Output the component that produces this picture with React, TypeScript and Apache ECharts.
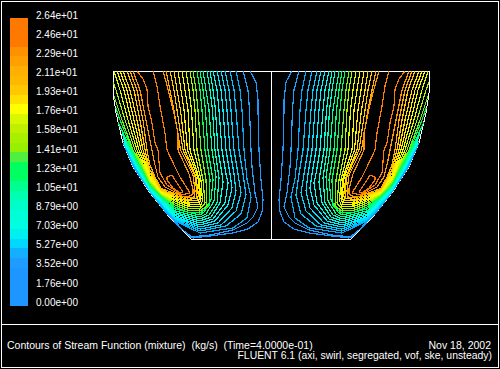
import React, { useEffect, useRef } from "react";
import * as echarts from "echarts";

type Pt = [number, number];

// Stream function contours: [radius, height] in the meridional plane (left half; the right half mirrors it).
const level01: Pt[] = [[21,168],[15,157],[13,139],[13,129],[12,89],[10,59],[8,39],[9,27],[13,17],[23,10],[38,6],[61,3],[78,1],[90,10.5],[105,26.3],[120.5,46.3],[137.5,72],[147.7,96]];
const level02: Pt[] = [[28,168],[23,149],[21.5,129],[20,89],[19,72],[16,46],[13,32],[18,22],[24,16],[38,9],[61,4],[81,2],[88,9],[104,25.5],[110,33],[120,46.5],[137,72],[147.3,96]];
const level03: Pt[] = [[35,168],[31,149],[29,129],[27,89],[24,60],[20,42],[24,21],[38,11],[71,6],[96,18],[110,33.5],[120.5,47],[136.5,72],[147.5,96]];
const level04: Pt[] = [[41,168],[37,149],[35,129],[32,89],[28,65],[25,44],[30,25],[45,13],[71,8],[96,19],[110,34],[120.5,47.5],[136,72],[147.3,96]];
const level05: Pt[] = [[46,168],[42,149],[40,129],[37,89],[33,65],[30,46],[35,28],[50,14],[71,10],[96,20],[110,35],[121,48],[135.5,72],[147.1,96]];
const level06: Pt[] = [[50,168],[46,149],[44,129],[41,89],[37,65],[35,48],[39,31],[53,16],[71,12],[96,21],[110,36],[121,48.5],[135,72],[146.9,96]];
const level07: Pt[] = [[54,168],[50,149],[48,129],[45,89],[41,65],[39,51],[43,34],[56,18],[71,14],[96,22],[110,37],[121,49],[134.5,72],[146.7,96]];
const level08: Pt[] = [[58,168],[54,149],[52,129],[49,89],[45,65],[43,56],[46,36],[58,20],[71,16],[96,23.5],[110,38],[121,49.5],[134,72],[142.5,89],[147.2,98]];
const level09: Pt[] = [[61,168],[58,149],[55.5,129],[53,89],[49,65],[48,57],[51,36],[60,22],[71,18],[96,25],[110,39],[121,50.5],[133.5,72],[142,89],[148,102]];
const level10: Pt[] = [[64,168],[61,149],[58.5,129],[56,89],[52,61],[54,36],[62,24],[71,20],[96,26.5],[110,40],[121,51.5],[133,72],[141.5,89],[149,106]];
const level11: Pt[] = [[68,168],[65,149],[62,129],[59,89],[55,62],[57,38],[65,25],[71,22],[96,28],[110,41],[121,52.5],[132,72],[141,89],[151,113]];
const level12: Pt[] = [[71,168],[68,149],[65.5,129],[63,89],[58,59],[60,39],[67,27],[71,24],[96,30],[110,42],[121,53.5],[131,72],[140,89],[153,117]];
const level13: Pt[] = [[74,168],[71,149],[69,129],[66,89],[61,59],[62,33],[71,26],[84,27],[96,32],[110,43],[121,54.5],[130,72],[139,89],[151,119],[155.2,131]];
const level14: Pt[] = [[78,168],[75,149],[73,129],[70,89],[65,59],[64,33],[71,28],[84,29],[96,34],[110,44],[121,56],[129,72],[138,89],[149,119],[157,143]];
const level15: Pt[] = [[81,168],[78,149],[76,129],[74,89],[68,59],[66,36],[71,30],[84,31],[96,36],[110,45],[121,57.5],[136,89],[146,119],[155,149],[158,157]];
const level16: Pt[] = [[85,168],[82,149],[79.5,129],[77,89],[70,59],[68.5,38],[71,32.5],[84,33],[96,38],[110,46],[121,59],[134,89],[143,119],[151,149],[157,168]];
const level17: Pt[] = [[89,168],[86,149],[83,129],[81,89],[72,61],[70,40],[72,34.5],[84,35],[96,39.5],[110,46.8],[121,61],[132,89],[140,119],[147,149],[154,168]];
const level18: Pt[] = [[93,168],[90,149],[87,129],[83.5,89],[73,61],[71,42],[73,36.5],[84,36.5],[96,41],[110,47.6],[121,63],[130,89],[137,119],[144,149],[151,168]];
const level19: Pt[] = [[97,168],[94,149],[90.5,129],[86,89],[75,62],[72.5,44],[74,38.5],[84,38],[96,42.5],[110,48.4],[121,66],[128,89],[134,119],[141,149],[148,168]];
const level20: Pt[] = [[101,168],[97,149],[94,129],[88,89],[76,63],[74,46],[75,40.5],[84,39.5],[96,44],[110,49.2],[121,69],[126,89],[131,119],[137,149],[144,168]];
const level21: Pt[] = [[105,168],[101,149],[97,129],[90.5,89],[78,64],[76,48],[77,42],[84,41],[96,45.5],[110,50.5],[116,62],[121,74],[124,89],[128,119],[134,149],[141,168]];
const level22: Pt[] = [[108,168],[103,150],[98,130],[93,106],[93,89],[82,65],[78,50],[78,45],[82,42.5],[88,42.5],[96,47],[106,52],[113,62],[116,74],[119,89],[125,119],[131,149],[138,168]];
const level23: Pt[] = [[118,168],[114,153],[111,133],[106,106],[104,89],[96,72],[91,62],[86,54],[81,46],[89,44],[104,54],[111,66],[113,89],[116,96],[119,116],[123,133],[124,150],[128,160],[134,168]];
const level24: Pt[] = [[104,62],[99,64],[96,59],[88,47],[91,46],[98,51],[104,59],[104,62]];

const contours: Pt[][] = [level01, level02, level03, level04, level05, level06, level07, level08, level09, level10, level11, level12, level13, level14, level15, level16, level17, level18, level19, level20, level21, level22, level23, level24];

const contourColors = ["rgb(30,150,255)","rgb(30,160,255)","rgb(0,170,255)","rgb(0,190,255)","rgb(0,210,255)","rgb(0,225,255)","rgb(0,240,255)","rgb(0,255,240)","rgb(0,255,220)","rgb(0,255,190)","rgb(0,255,160)","rgb(0,255,120)","rgb(0,255,80)","rgb(110,245,20)","rgb(170,245,0)","rgb(220,250,0)","rgb(245,250,0)","rgb(255,240,0)","rgb(255,220,0)","rgb(255,200,0)","rgb(255,175,0)","rgb(255,150,0)","rgb(255,125,0)","rgb(255,120,0)"];

// Domain outline: [radius, height]
const wall: Pt[] = [[0,168],[158,168],[158,146],[155,126],[148,96],[138,72],[121,46],[101,21],[80,0],[0,0],[0,168]];

// Colour scale
const scaleTicks = ["0.00e+00","1.76e+00","3.52e+00","5.27e+00","7.03e+00","8.79e+00","1.05e+01","1.23e+01","1.41e+01","1.58e+01","1.76e+01","1.93e+01","2.11e+01","2.29e+01","2.46e+01","2.64e+01"];
const scaleBandSize = [0.88,0.88,0.88,0.88,0.88,0.88,0.88,0.88,0.88,0.88,0.88,0.88,0.88,0.88,0.88,0.88,0.88,0.88,0.88,0.88,0.88,0.88,0.88,0.88,0.88,0.88,0.88,0.88,0.88,0.88];
const scaleBandColors = ["#1e96ff","#1e96ff","#1e96ff","#1e96ff","#1e9cff","#14b0ff","#00d8ff","#00f0f0","#00ffe0","#00ffd8","#00ffc8","#00ffb0","#00ff90","#00ff60","#00ff60","#50f040","#98f000","#a8f000","#c0f000","#d8f800","#ffff00","#ffe000","#ffc800","#ffb800","#ffb000","#ffa000","#ff9000","#ff7800","#ff7800","#ff7800"];

const titleText = "Contours of Stream Function (mixture)  (kg/s)  (Time=4.0000e-01)";
const dateText = "Nov 18, 2002";
const solverText = "FLUENT 6.1 (axi, swirl, segregated, vof, ske, unsteady)";

const FONT = "'Liberation Sans', Arial, sans-serif";

export default function App() {
  const ref = useRef<HTMLDivElement>(null);
  useEffect(() => {
    const chart = echarts.init(ref.current!, null, { renderer: "svg" });
    const line = (id: string, pts: Pt[], color: string, sign: number, width: number) => ({
      type: "line",
      id,
      xAxisIndex: 0,
      yAxisIndex: 0,
      data: pts.map(([r, z]) => [sign * r, z]),
      symbol: "none",
      silent: true,
      clip: false,
      lineStyle: { color, width, cap: "butt", join: "miter" },
    });
    const series: any[] = [
      line("wallL", wall, "#ffffff", -1, 1),
      line("wallR", wall, "#ffffff", 1, 1),
    ];
    contours.forEach((pts, i) => {
      series.push(line(`cL${i}`, pts, contourColors[i], -1, 1.2));
      series.push(line(`cR${i}`, pts, contourColors[i], 1, 1.2));
    });
    scaleBandSize.forEach((v, i) => {
      series.push({
        type: "bar",
        id: `band${i}`,
        xAxisIndex: 1,
        yAxisIndex: 1,
        stack: "scale",
        barWidth: "100%",
        silent: true,
        data: [v],
        itemStyle: { color: scaleBandColors[i] },
      });
    });
    chart.setOption({
      animation: false,
      backgroundColor: "#000000",
      grid: [
        { left: 0, top: 0, width: 500, height: 369 },
        { left: 10, top: 18, width: 18, height: 288 },
        { left: 10, top: 15, width: 18, height: 287.3 },
      ],
      xAxis: [
        { type: "value", gridIndex: 0, min: -271, max: 229, show: false },
        { type: "category", gridIndex: 1, data: ["scale"], show: false },
        { type: "category", gridIndex: 2, data: ["scale"], show: false },
      ],
      yAxis: [
        { type: "value", gridIndex: 0, min: -130, max: 239, show: false },
        { type: "value", gridIndex: 1, min: 0, max: 26.4, show: false },
        {
          type: "value",
          gridIndex: 2,
          position: "right",
          min: 0,
          max: 26.4,
          interval: 1.76,
          splitLine: { show: false },
          axisLine: { show: false },
          axisTick: { show: false },
          axisLabel: {
            show: true,
            margin: 8,
            color: "#ffffff",
            fontFamily: FONT,
            fontSize: 10,
            showMinLabel: true,
            showMaxLabel: true,
            formatter: (v: number) => scaleTicks[Math.round(v / 1.76)] ?? "",
          },
        },
      ],
      graphic: [
        { type: "rect", shape: { x: 1.5, y: 1.5, width: 497, height: 365.5 }, style: { fill: "none", stroke: "#ffffff", lineWidth: 1 }, silent: true },
        { type: "line", shape: { x1: 1, y1: 324.5, x2: 499, y2: 324.5 }, style: { stroke: "#ffffff", lineWidth: 1 }, silent: true },
        { type: "text", x: 7, y: 345, style: { text: titleText, fill: "#ffffff", font: `10.5px ${FONT}`, textAlign: "left", textVerticalAlign: "middle" } },
        { type: "text", x: 491, y: 345, style: { text: dateText, fill: "#ffffff", font: `10.5px ${FONT}`, textAlign: "right", textVerticalAlign: "middle" } },
        { type: "text", x: 492, y: 355, style: { text: solverText, fill: "#ffffff", font: `10.4px ${FONT}`, textAlign: "right", textVerticalAlign: "middle" } },
      ],
      series,
    });
    return () => chart.dispose();
  }, []);
  return (
    <>
      <style>{`body{margin:0;background:#000} svg path, svg line, svg rect {shape-rendering:crispEdges}`}</style>
      <div ref={ref} style={{ position: "absolute", left: 0, top: 0, width: 500, height: 369 }} />
    </>
  );
}
